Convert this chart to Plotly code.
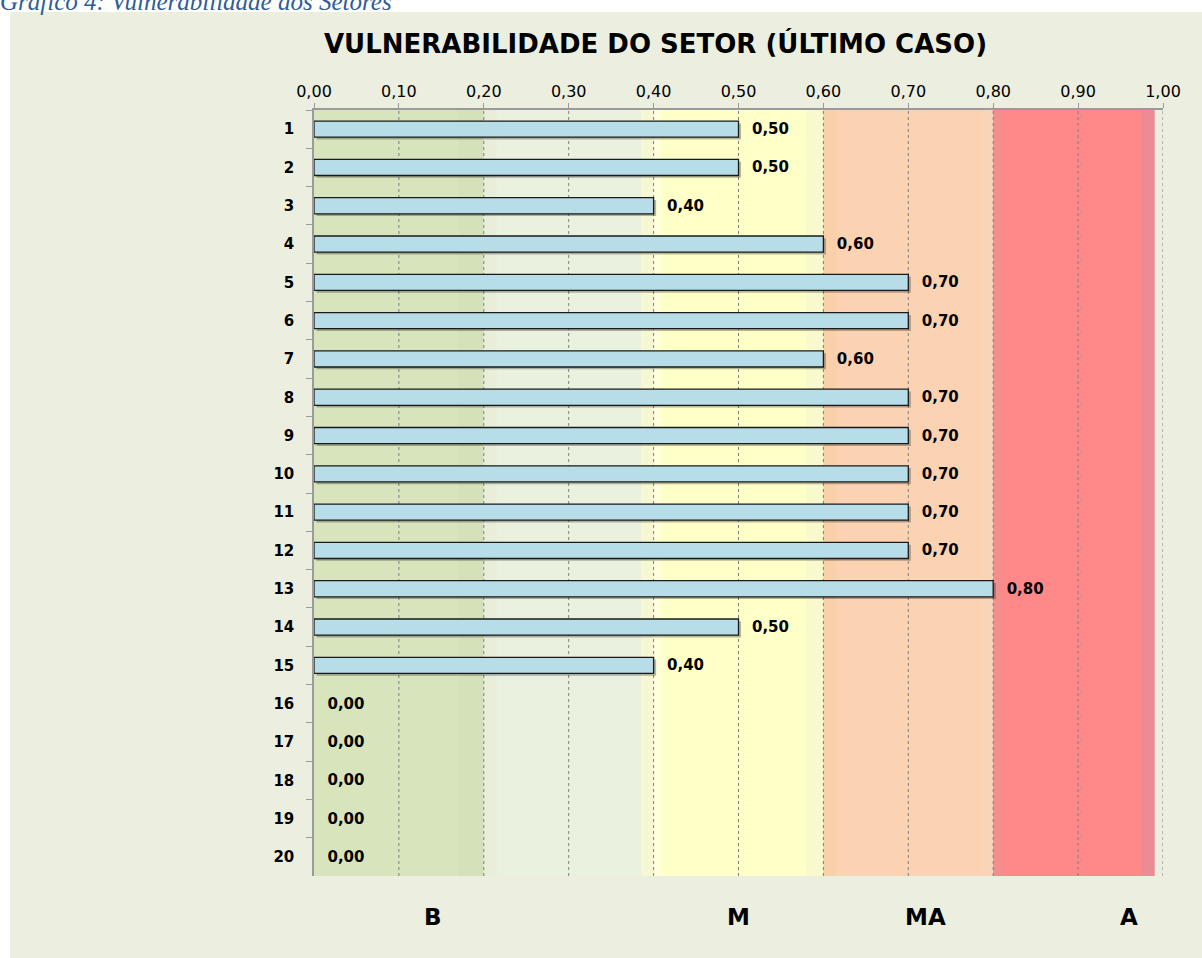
import plotly.graph_objects as go

sectors = [str(i) for i in range(1, 21)]
values = [0.50, 0.50, 0.40, 0.60, 0.70, 0.70, 0.60, 0.70, 0.70, 0.70,
          0.70, 0.70, 0.80, 0.50, 0.40, 0.00, 0.00, 0.00, 0.00, 0.00]
x_ticks = [0.0, 0.1, 0.2, 0.3, 0.4, 0.5, 0.6, 0.7, 0.8, 0.9, 1.0]
band_labels = ["B", "M", "MA", "A"]
band_label_pos = [0.14, 0.50, 0.72, 0.96]
bands = [(0.0, 0.2, "#D8E4BC"), (0.2, 0.4, "#EBF1DF"), (0.4, 0.6, "#FFFFC8"),
         (0.6, 0.8, "#FCD3B2"), (0.8, 0.99, "#FF8888")]

title = "VULNERABILIDADE DO SETOR (ÚLTIMO CASO)"
caption = "Gráfico 4: Vulnerabilidade dos Setores"

L, R, T, B = 314, 39, 110, 82
W, H = 1202, 958
PW, PH = W - L - R, H - T - B


def px_x(p):
    return (p - L) / PW


def px_y(p):
    return (H - B - p) / PH


nonzero = [v > 0 for v in values]

fig = go.Figure()

# subtle shadow behind the bars
fig.add_trace(go.Bar(
    y=sectors, x=values, base=0.003, orientation="h",
    marker=dict(color=["rgba(0,0,0,0.28)" if n else "rgba(0,0,0,0)" for n in nonzero],
                line=dict(width=0)),
    width=0.42, offset=-0.15, hoverinfo="skip", showlegend=False,
))
fig.add_trace(go.Bar(
    y=sectors, x=values, orientation="h",
    marker=dict(color="#B7DDE8",
                line=dict(color="#1a1a1a", width=[1.3 if n else 0 for n in nonzero])),
    width=0.42,
    text=values, texttemplate="\u00a0\u00a0%{x:.2f}", textposition="outside",
    constraintext="none",
    textfont=dict(family="DejaVu Sans", size=15, color="black", weight="bold"),
    cliponaxis=False, showlegend=False,
))

shapes = []
shapes.append(dict(type="rect", xref="paper", yref="paper",
                   x0=px_x(10), x1=px_x(1202), y0=px_y(958), y1=px_y(12),
                   fillcolor="#ECEFDF", line=dict(width=0), layer="below"))
for x0, x1, c in bands:
    shapes.append(dict(type="rect", xref="x", yref="paper", x0=x0, x1=x1, y0=0, y1=1,
                       fillcolor=c, line=dict(width=0), layer="below"))
trans = [(0.17, 0.2, "#D4DFB8", 0.6), (0.2, 0.215, "#E6EDD6", 0.6),
         (0.385, 0.4, "#F6F8D2", 0.9), (0.4, 0.41, "#FFFFDC", 0.8),
         (0.58, 0.6, "#F5F8CE", 0.7), (0.6, 0.615, "#F8D0A8", 0.8),
         (0.785, 0.8, "#F8D4B8", 0.8), (0.8, 0.81, "#F09090", 0.8),
         (0.975, 0.99, "#E88C98", 0.9)]
for x0, x1, c, op in trans:
    shapes.append(dict(type="rect", xref="x", yref="paper", x0=x0, x1=x1, y0=0, y1=1,
                       fillcolor=c, opacity=op, line=dict(width=0), layer="below"))
for t in x_ticks[1:]:
    shapes.append(dict(type="line", xref="x", yref="paper", x0=t, x1=t, y0=0, y1=1,
                       line=dict(color="#7F7F7F", width=1, dash="dot"), layer="below"))

annotations = [
    dict(text=f"<b>{title}</b>", xref="paper", yref="paper", x=px_x(655),
         y=px_y(44), xanchor="center", yanchor="middle", showarrow=False,
         font=dict(family="DejaVu Sans", size=26, color="black")),
    dict(text=f"<i>{caption}</i>", xref="paper", yref="paper", x=px_x(-2),
         y=px_y(17), xanchor="left", yanchor="bottom", showarrow=False,
         font=dict(family="Liberation Serif", size=25, color="#2E5C9A")),
]
for lab, pos in zip(band_labels, band_label_pos):
    annotations.append(dict(text=f"<b>{lab}</b>", xref="x", yref="paper", x=pos,
                            y=px_y(917), xanchor="center", yanchor="middle",
                            showarrow=False,
                            font=dict(family="DejaVu Sans", size=23, color="black")))

fig.update_layout(
    width=W, height=H,
    margin=dict(l=L, r=R, t=T, b=B, pad=0),
    paper_bgcolor="white", plot_bgcolor="rgba(0,0,0,0)",
    separators=",.",
    barmode="overlay",
    shapes=shapes, annotations=annotations,
    xaxis=dict(range=[0, 1], side="top", tickvals=x_ticks, tickformat=".2f",
               showgrid=False, zeroline=False, showline=True, linecolor="#9A9A9A",
               linewidth=1.5, ticks="outside", ticklen=5, tickcolor="#9A9A9A",
               tickfont=dict(family="DejaVu Sans", size=16, color="black"),
               ticklabelstandoff=0),
    yaxis=dict(type="category", autorange="reversed", showgrid=False,
               showline=True, linecolor="#9A9A9A", linewidth=1.5,
               ticks="outside", tickson="boundaries", ticklen=6, tickcolor="#9A9A9A",
               tickfont=dict(family="DejaVu Sans", size=15, color="black", weight="bold"),
               ticklabelstandoff=15),
)

fig.write_html("out.html", config={"displayModeBar": False},
               post_script="document.body.style.margin='0';")
